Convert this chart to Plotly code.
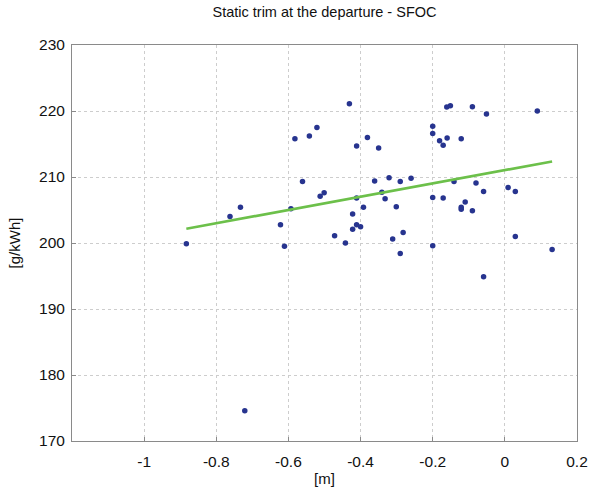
import numpy as np
import plotly.graph_objects as go

# Static trim at departure [m] and measured SFOC [g/kWh]
trim = [
    -0.883, -0.762, -0.733, -0.622, -0.611, -0.593, -0.582, -0.561, -0.542, -0.521,
    -0.512, -0.501, -0.472, -0.442, -0.431, -0.422, -0.422, -0.411, -0.411, -0.411,
    -0.400, -0.392, -0.381, -0.350, -0.361, -0.341, -0.332, -0.321, -0.311, -0.301,
    -0.290, -0.290, -0.282, -0.260, -0.200, -0.200, -0.200, -0.200, -0.181, -0.171,
    -0.171, -0.161, -0.151, -0.160, -0.141, -0.121, -0.121, -0.121, -0.110, -0.090,
    -0.090, -0.080, -0.059, -0.059, -0.051, 0.009, 0.029, 0.029, 0.090, 0.131,
    -0.721,
]
sfoc = [
    199.9, 204.0, 205.4, 202.75, 199.5, 205.2, 215.8, 209.3, 216.2, 217.5,
    207.1, 207.6, 201.1, 200.0, 221.1, 204.4, 202.1, 214.7, 206.8, 202.75,
    202.45, 205.4, 216.0, 214.4, 209.4, 207.7, 206.7, 209.9, 200.6, 205.5,
    209.3, 198.4, 201.6, 209.8, 217.7, 216.6, 206.9, 199.6, 215.5, 214.8,
    206.8, 220.6, 220.8, 215.9, 209.3, 215.8, 205.1, 205.4, 206.2, 220.65,
    204.9, 209.1, 207.8, 194.9, 219.55, 208.4, 207.8, 201.0, 220.0, 199.0,
    174.6,
]

x_ticks = [-1, -0.8, -0.6, -0.4, -0.2, 0, 0.2]
x_tick_text = ["-1", "-0.8", "-0.6", "-0.4", "-0.2", "0", "0.2"]
y_ticks = [170, 180, 190, 200, 210, 220, 230]

# Linear trend over the measured trim range
coef = np.polyfit(trim, sfoc, 1)
fit_x = np.array([min(trim), max(trim)])
fit_y = np.polyval(coef, fit_x)

fig = go.Figure()
fig.add_trace(go.Scatter(
    x=trim, y=sfoc, mode="markers",
    marker=dict(color="#27348f", size=5.5),
    showlegend=False,
))
fig.add_trace(go.Scatter(
    x=fit_x, y=fit_y, mode="lines",
    line=dict(color="#6cc04a", width=2.6),
    showlegend=False,
))

font_main = "Liberation Sans, Arial"

axis_common = dict(
    showgrid=True, gridcolor="#cdcdcd", griddash="dot", gridwidth=1,
    showline=True, linecolor="#8a8a8a", linewidth=1, mirror=True,
    ticks="inside", ticklen=4, tickcolor="#8a8a8a",
    tickfont=dict(family=font_main, size=15.5, color="#111111"),
    zeroline=False, automargin=False,
)

fig.update_layout(
    width=590, height=487,
    margin=dict(l=72, r=13, t=45, b=46),
    paper_bgcolor="white", plot_bgcolor="white",
    title=dict(
        text="Static trim at the departure - SFOC",
        font=dict(family=font_main, size=14.5, color="#111111"),
        x=0.55, xanchor="center", y=0.985, yanchor="top",
    ),
    xaxis=dict(
        range=[-1.2, 0.2], tickvals=x_ticks, ticktext=x_tick_text,
        ticklabelstandoff=6,
        title=dict(text="[m]", standoff=4,
                   font=dict(family=font_main, size=15, color="#111111")),
        **axis_common,
    ),
    yaxis=dict(
        range=[170, 230], tickvals=y_ticks,
        ticklabelstandoff=3,
        title=dict(text="[g/kWh]", standoff=14,
                   font=dict(family=font_main, size=15, color="#111111")),
        **axis_common,
    ),
)

fig.write_html("out.html")
